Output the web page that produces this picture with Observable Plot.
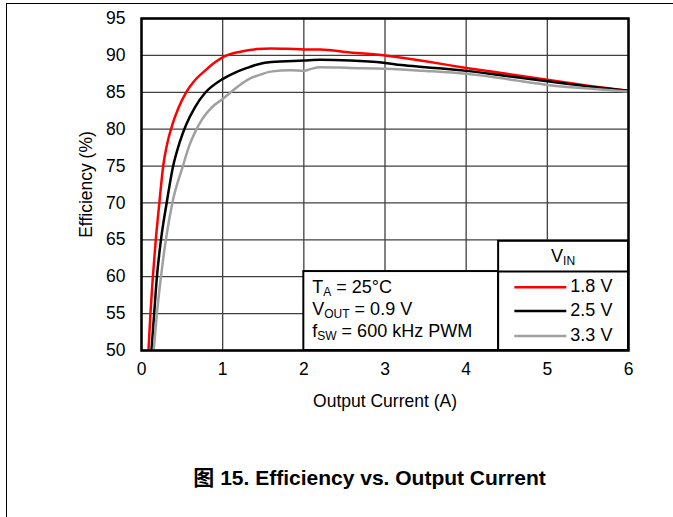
<!DOCTYPE html>
<html>
<head>
<meta charset="utf-8">
<script src="https://cdn.jsdelivr.net/npm/d3@7"></script>
<script src="https://cdn.jsdelivr.net/npm/@observablehq/plot@0.6"></script>
<style>
  html, body { margin: 0; padding: 0; background: #fff; width: 673px; height: 517px; overflow: hidden; }
  body { position: relative; font-family: "Liberation Sans", Arial, sans-serif; }
  #pageframe { position: absolute; left: 6px; top: 3px; width: 680px; height: 530px; border-top: 1.5px solid #000; border-left: 1.5px solid #000; }
  #chart { position: absolute; left: 0; top: 0; }
  #title { position: absolute; left: 69px; width: 601px; top: 465px; text-align: center; font-weight: bold; font-size: 21px; line-height: 26px; white-space: nowrap; font-family: "Liberation Sans", Arial, "Noto Sans CJK SC", sans-serif; }
</style>
</head>
<body>
<div id="pageframe"></div>
<div id="chart"></div>
<div id="title">图 15. Efficiency vs. Output Current</div>
<script>
// ---- data ----
const xTicks = [0, 1, 2, 3, 4, 5, 6];
const yTicks = [50, 55, 60, 65, 70, 75, 80, 85, 90, 95];
const seriesNames = ["1.8 V", "2.5 V", "3.3 V"];
const seriesColors = ["#ff0000", "#000000", "#a0a0a0"];

const x18 = [0.086, 0.11, 0.14, 0.176, 0.22, 0.267, 0.32, 0.38, 0.46, 0.55, 0.64, 0.79, 0.91, 1.01, 1.22, 1.42, 1.6, 1.8, 2.0, 2.2, 2.57, 3.0, 3.5, 4.0, 4.5, 5.0, 5.5, 6.0];
const y18 = [50, 55, 60, 65, 70, 75, 78.2, 80.6, 83.0, 85.0, 86.4, 88.0, 89.1, 89.8, 90.5, 90.85, 90.95, 90.9, 90.8, 90.8, 90.4, 90.0, 89.2, 88.3, 87.5, 86.7, 85.9, 85.2];

const x25 = [0.123, 0.156, 0.19, 0.24, 0.31, 0.39, 0.47, 0.55, 0.66, 0.79, 0.97, 1.14, 1.30, 1.44, 1.6, 2.0, 2.2, 2.57, 2.98, 3.2, 3.5, 4.0, 4.5, 5.0, 5.5, 6.0];
const y25 = [50, 55, 60, 65, 70, 75, 78.2, 80.6, 83.0, 85.0, 86.6, 87.6, 88.3, 88.8, 89.1, 89.3, 89.4, 89.3, 89.0, 88.7, 88.4, 87.9, 87.2, 86.5, 85.8, 85.2];

const x33 = [0.15, 0.19, 0.24, 0.30, 0.38, 0.51, 0.59, 0.66, 0.75, 0.86, 1.0, 1.1, 1.2, 1.34, 1.44, 1.59, 1.84, 2.0, 2.07, 2.2, 2.57, 3.0, 3.5, 4.0, 4.5, 5.0, 5.5, 6.0];
const y33 = [50, 55, 60, 65, 70, 75, 77.8, 79.6, 81.4, 82.9, 84.1, 85.0, 85.9, 86.9, 87.3, 87.8, 88.0, 87.9, 88.1, 88.4, 88.3, 88.2, 87.9, 87.5, 86.8, 86.0, 85.5, 85.1];

// ---- layout (annotation/legend placement in data units) ----
const annot = { x1: 2, x2: 4.4, y1: 50, y2: 60.7 };
const legendBox = { x1: 4.4, x2: 6, y1: 50, y2: 64.8, sep: 60.7 };

const rows = [];
[[x18, y18], [x25, y25], [x33, y33]].forEach(([xs, ys], i) => {
  xs.forEach((v, j) => rows.push({ series: seriesNames[i], x: v, y: ys[j] }));
});

const font = "Liberation Sans, Arial, sans-serif";
const plot = Plot.plot({
  width: 673,
  height: 430,
  marginTop: 18,
  marginBottom: 80,
  marginLeft: 141,
  marginRight: 45,
  style: { fontFamily: font, fontSize: "17.5px", background: "transparent", color: "#000" },
  x: { domain: [0, 6], ticks: xTicks, tickFormat: d => String(d) },
  y: { domain: [50, 95], ticks: yTicks },
  color: { domain: seriesNames, range: seriesColors },
  marks: [
    Plot.gridX(xTicks, { stroke: "#404040", strokeOpacity: 1, strokeWidth: 1.3 }),
    Plot.gridY(yTicks, { stroke: "#404040", strokeOpacity: 1, strokeWidth: 1.3 }),
    Plot.axisX({ ticks: xTicks, tickFormat: d => String(d), tickSize: 0, tickPadding: 12, fontSize: 17.5, label: "Output Current (A)", labelAnchor: "center", labelArrow: "none", labelOffset: 56 }),
    Plot.axisY({ ticks: yTicks, tickSize: 0, tickPadding: 16, fontSize: 17.5, label: "Efficiency (%)", labelAnchor: "center", labelArrow: "none", labelOffset: 62 }),
    Plot.rect([annot], { x1: "x1", x2: "x2", y1: "y1", y2: "y2", fill: "#fff", stroke: "#000", strokeWidth: 2 }),
    Plot.rect([legendBox], { x1: "x1", x2: "x2", y1: "y1", y2: "y2", fill: "#fff", stroke: "#000", strokeWidth: 2 }),
    Plot.ruleY([legendBox.sep], { x1: legendBox.x1, x2: legendBox.x2, stroke: "#000", strokeWidth: 2 }),
    Plot.line(rows, { x: "x", y: "y", z: "series", stroke: "series", strokeWidth: 2.5, curve: "monotone-x", clip: true }),
    Plot.frame({ stroke: "#000", strokeWidth: 2.5 })
  ]
});
document.getElementById("chart").appendChild(plot);

// ---- annotation + legend text with subscripts ----
const sx = plot.scale("x").apply, sy = plot.scale("y").apply;
const svg = d3.select(plot);
function subText(g, x, y, parts, anchor) {
  const t = g.append("text").attr("x", x).attr("y", y)
    .attr("font-family", font).attr("font-size", 18).attr("fill", "#000")
    .attr("text-anchor", anchor || "start").attr("dominant-baseline", "middle");
  let shift = 0;
  parts.forEach(([s, sub]) => {
    const sp = t.append("tspan").text(s);
    if (sub) {
      sp.attr("font-size", 12).attr("dy", 5 - shift);
      shift = 5;
    } else {
      if (shift) sp.attr("dy", -shift);
      shift = 0;
    }
  });
  return t;
}
const g = svg.append("g");
const ax = sx(2.11);
subText(g, ax, sy(58.4), [["T"], ["A", true], [" = 25°C"]]);
subText(g, ax, sy(55.4), [["V"], ["OUT", true], [" = 0.9 V"]]);
subText(g, ax, sy(52.4), [["f"], ["SW", true], [" = 600 kHz PWM"]]);

subText(g, sx((legendBox.x1 + legendBox.x2) / 2), sy(62.6), [["V"], ["IN", true]], "middle");
const legendRows = [58.5, 55.3, 51.9];
seriesNames.forEach((name, i) => {
  g.append("line")
    .attr("x1", sx(4.6)).attr("x2", sx(5.24))
    .attr("y1", sy(legendRows[i])).attr("y2", sy(legendRows[i]))
    .attr("stroke", seriesColors[i]).attr("stroke-width", 2.5);
  subText(g, sx(5.29), sy(legendRows[i]), [[name]]);
});
</script>
</body>
</html>
